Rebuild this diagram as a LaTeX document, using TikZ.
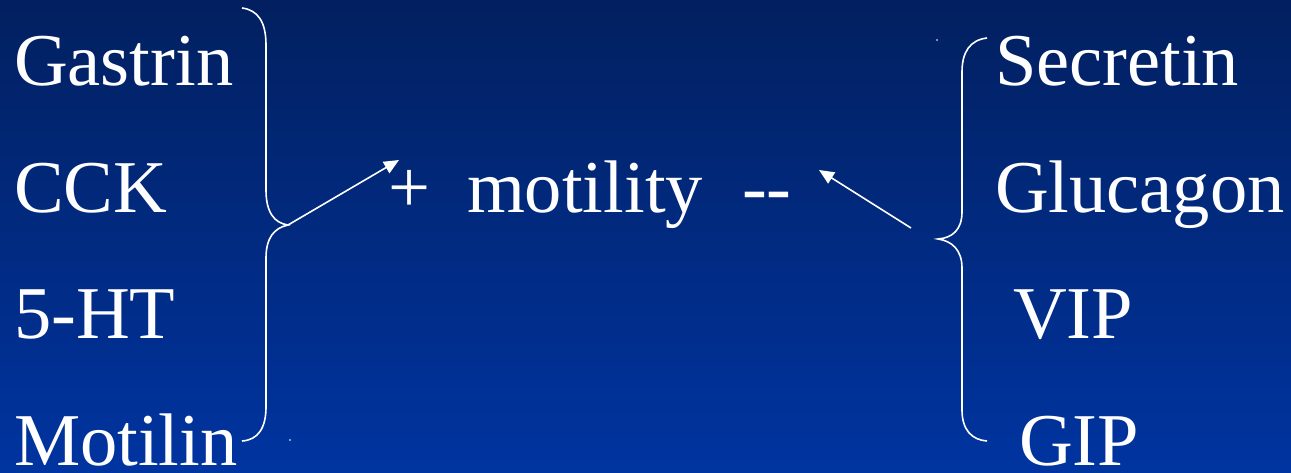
\documentclass[tikz,border=0pt]{standalone}
\usepackage{fontspec}
\setmainfont{Liberation Serif}
\usetikzlibrary{arrows.meta}
\definecolor{bgtop}{RGB}{2,32,96}
\definecolor{bgbot}{RGB}{0,52,160}
\begin{document}
\begin{tikzpicture}[x=1pt,y=-1pt,
  lbl/.style={anchor=base west,inner sep=0pt,outer sep=0pt,text=white,font=\fontsize{74.5}{80}\selectfont},
  brace/.style={draw=white,line width=1.6pt},
  arr/.style={draw=white,line width=1.6pt,-{Triangle[length=15pt,width=13pt]}}]
\shade[top color=bgtop,bottom color=bgbot] (0,0) rectangle (1291,472);
\useasboundingbox (0,0) rectangle (1291,472);
% left column
\node[lbl] (gastrin) at (14,85) {Gastrin};
\node[lbl] (cck) at (14,212) {CCK};
\node[lbl] (ht) at (14,338) {5-HT};
\node[lbl] (motilin) at (14,465) {Motilin};
% middle
\node[lbl] (plus) at (388,212) {+};
\node[lbl] (motility) at (467,212) {motility};
\node[lbl] (minus) at (742,212) {-{}-};
% right column
\node[lbl] (secretin) at (995,85) {Secretin};
\node[lbl] (glucagon) at (995,212) {Glucagon};
\node[lbl] (vip) at (1013,338) {VIP};
\node[lbl] (gip) at (1019,465) {GIP};
% left brace
\coordinate (ltip) at (288,225);
\coordinate (lhead) at (399,160);
\path[brace] (242,8) .. controls (258,10) and (266,22) .. (266,45) -- (266,190)
  .. controls (266,212) and (274,223) .. (ltip)
  .. controls (274,228) and (266,238) .. (266,258) -- (266,407)
  .. controls (266,428) and (258,440) .. (242,441);
\draw[arr] (ltip) -- (lhead);
% right brace
\coordinate (rtip) at (938,239);
\coordinate (rtail) at (911,228);
\coordinate (rhead) at (819,170);
\path[brace] (987,38) .. controls (970,40) and (962,52) .. (962,72) -- (962,212)
  .. controls (962,230) and (952,238) .. (rtip)
  .. controls (952,241) and (962,250) .. (962,268) -- (962,410)
  .. controls (962,430) and (972,440) .. (987,441);
\draw[arr] (rtail) -- (rhead);
% tiny dots
\fill[white] (937,40) circle (0.9);
\fill[white] (290,440) circle (0.9);
\end{tikzpicture}
\end{document}
